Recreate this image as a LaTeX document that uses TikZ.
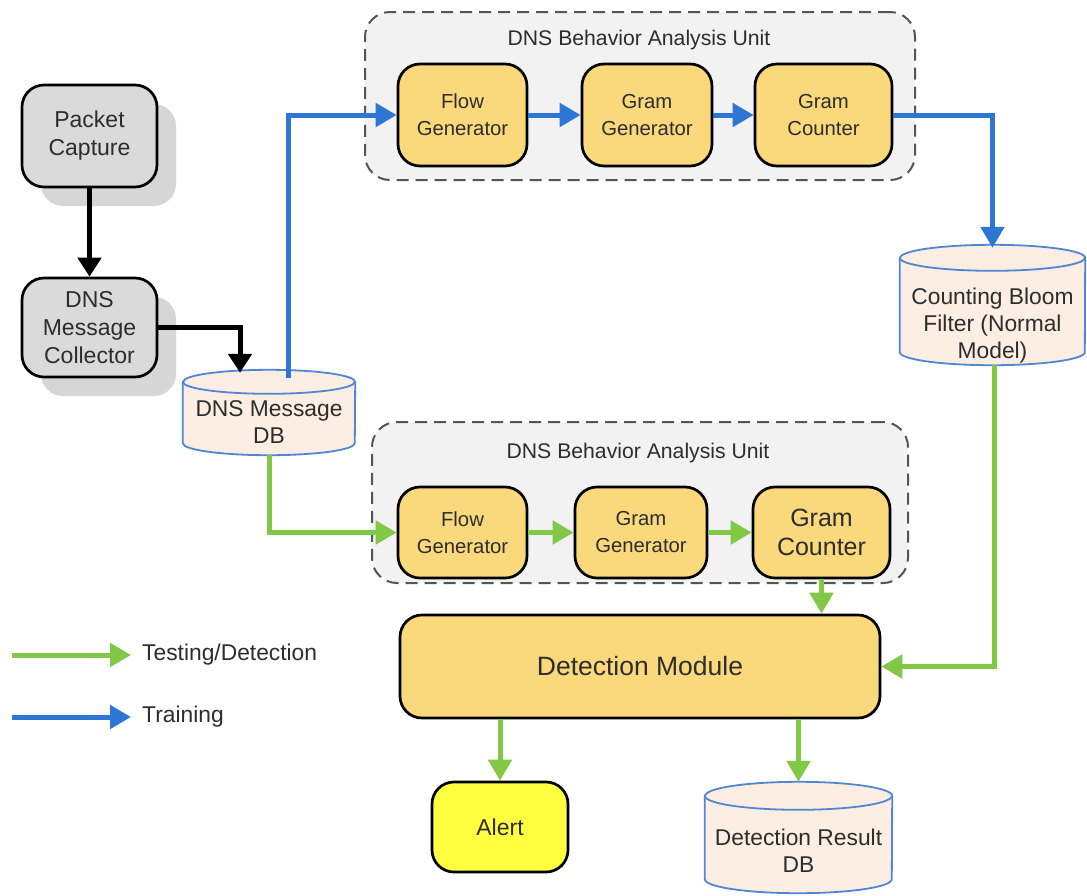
\documentclass[tikz,border=0pt]{standalone}
\usepackage{fontspec}
\setmainfont{Liberation Sans}
\usetikzlibrary{arrows.meta,calc,shadows}
\definecolor{boxy}{RGB}{249,217,124}
\definecolor{alerty}{RGB}{255,255,64}
\definecolor{grayb}{RGB}{218,218,218}
\definecolor{shad}{RGB}{214,214,214}
\definecolor{unitf}{RGB}{242,242,242}
\definecolor{unitd}{RGB}{85,85,85}
\definecolor{blu}{RGB}{46,118,214}
\definecolor{grn}{RGB}{128,200,70}
\definecolor{cylf}{RGB}{252,238,226}
\definecolor{cyld}{RGB}{80,134,214}
\definecolor{txt}{RGB}{45,45,45}
\tikzset{
  box/.style={draw=black, line width=2.7pt, rounded corners=22pt, fill=boxy, align=center, inner sep=0pt, text=txt, font=\fontsize{20.3}{27}\selectfont},
  graybox/.style={box, fill=grayb, font=\fontsize{23}{28}\selectfont, drop shadow={shadow xshift=19pt, shadow yshift=-19pt, fill=shad, opacity=1}},
  unit/.style={draw=unitd, line width=2pt, dash pattern=on 12pt off 7pt, fill=unitf, rounded corners=25pt, inner sep=0pt},
  unittitle/.style={text=txt, font=\fontsize{21.2}{25}\selectfont},
  cylnode/.style={inner sep=0pt, draw=none},
  cylsty/.style={draw=cyld, line width=1.8pt, fill=cylf},
  cyltext/.style={align=center, text=txt, font=\fontsize{22.8}{27}\selectfont, inner sep=0pt},
  barrow/.style={draw=blu, line width=5pt, -{Triangle[length=21pt,width=23pt]}},
  garrow/.style={draw=grn, line width=5pt, -{Triangle[length=21pt,width=23pt]}},
  karrow/.style={draw=black, line width=5pt, -{Triangle[length=19pt,width=23pt]}},
  legtext/.style={anchor=west, text=txt, font=\fontsize{22.8}{26}\selectfont, inner sep=0pt}
}
\newcommand\drawcyl[3]{%
  \draw[cylsty] ([yshift=-#3]#1.north west) -- ([yshift=#3]#1.south west)
    arc[start angle=180, end angle=360, x radius=#2, y radius=#3]
    -- ([yshift=-#3]#1.north east)
    arc[start angle=0, end angle=180, x radius=#2, y radius=#3] -- cycle;
  \draw[draw=cyld, line width=1.8pt] ([yshift=-#3]#1.north west)
    arc[start angle=180, end angle=360, x radius=#2, y radius=#3];
}
\begin{document}
\begin{tikzpicture}[x=1pt,y=-1pt]
\useasboundingbox (0,0) rectangle (1087,895);
\fill[white] (0,0) rectangle (1087,895);

% units
\node[unit, minimum width=550pt, minimum height=168pt] (u1) at (640,96) {};
\node[unittitle] (u1t) at (639,40) {DNS Behavior Analysis Unit};
\node[unit, minimum width=536pt, minimum height=161pt] (u2) at (640,502.5) {};
\node[unittitle] (u2t) at (638,453) {DNS Behavior Analysis Unit};

% left gray boxes
\node[graybox, minimum width=135pt, minimum height=102pt] (pc) at (89.5,136) {Packet\\Capture};
\node[graybox, minimum width=135pt, minimum height=99pt] (dmc) at (89.5,327.5) {DNS\\Message\\Collector};

% top unit boxes
\node[box, minimum width=129pt, minimum height=102pt] (fg1) at (462.5,115) {Flow\\Generator};
\node[box, minimum width=130pt, minimum height=102pt] (gg1) at (647,115) {Gram\\Generator};
\node[box, minimum width=137pt, minimum height=102pt] (gc1) at (823.5,115) {Gram\\Counter};

% bottom unit boxes
\node[box, minimum width=129pt, minimum height=91pt] (fg2) at (462.5,532.5) {Flow\\Generator};
\node[box, minimum width=132pt, minimum height=91pt] (gg2) at (641,532.5) {Gram\\Generator};
\node[box, minimum width=137pt, minimum height=91pt, font=\fontsize{25}{29}\selectfont] (gc2) at (821.5,532.5) {Gram\\Counter};

% detection module, alert
\node[box, minimum width=480pt, minimum height=103pt, font=\fontsize{26.5}{30}\selectfont] (dm) at (640,666.5) {Detection Module};
\node[box, fill=alerty, minimum width=136pt, minimum height=90pt, font=\fontsize{23}{26}\selectfont] (alert) at (500,827) {Alert};

% cylinders
\node[cylnode, minimum width=172pt, minimum height=85pt] (db) at (269,412.5) {};
\drawcyl{db}{86pt}{12pt}
\node[cyltext] (dbt) at ($(db.center)+(0,10)$) {DNS Message\\DB};

\node[cylnode, minimum width=185pt, minimum height=120pt] (cbf) at (992.5,305) {};
\drawcyl{cbf}{92.5pt}{13pt}
\node[cyltext] (cbft) at ($(cbf.center)+(0,21)$) {Counting Bloom\\Filter (Normal\\Model)};

\node[cylnode, minimum width=187pt, minimum height=111pt] (drdb) at (798.5,837.5) {};
\drawcyl{drdb}{93.5pt}{14pt}
\node[cyltext] (drdbt) at ($(drdb.center)+(0,13)$) {Detection Result\\DB};

% black arrows
\draw[karrow] (pc.south) -- (dmc.north);
\coordinate (dbin) at ($(db.north)+(-29,3)$);
\draw[karrow] (dmc.east) -| (dbin);

% blue (training) path
\coordinate (dbout) at ($(db.north)+(19,8)$);
\draw[barrow] (dbout) |- (fg1.west);
\draw[barrow] (fg1.east) -- (gg1.west);
\draw[barrow] (gg1.east) -- (gc1.west);
\coordinate (cbfin) at ($(cbf.north)+(0,3)$);
\draw[barrow] (gc1.east) -| (cbfin);

% green (testing) path
\draw[garrow] (db.south) |- (fg2.west);
\draw[garrow] (fg2.east) -- (gg2.west);
\draw[garrow] (gg2.east) -- (gc2.west);
\draw[garrow] (gc2.south) -- (gc2.south |- dm.north);
\coordinate (cbfout) at ($(cbf.south)+(2,0)$);
\draw[garrow] (cbfout) |- (dm.east);
\draw[garrow] (alert.north |- dm.south) -- (alert.north);
\draw[garrow] (drdb.north |- dm.south) -- (drdb.north);

% legend
\coordinate (lg1) at (12,655);
\coordinate (lg1e) at (131,655);
\draw[garrow] (lg1) -- (lg1e);
\node[legtext] (lgt1) at (142,655) {Testing/Detection};
\coordinate (lg2) at (12,717);
\coordinate (lg2e) at (131,717);
\draw[barrow] (lg2) -- (lg2e);
\node[legtext] (lgt2) at (142,717) {Training};
\end{tikzpicture}
\end{document}
